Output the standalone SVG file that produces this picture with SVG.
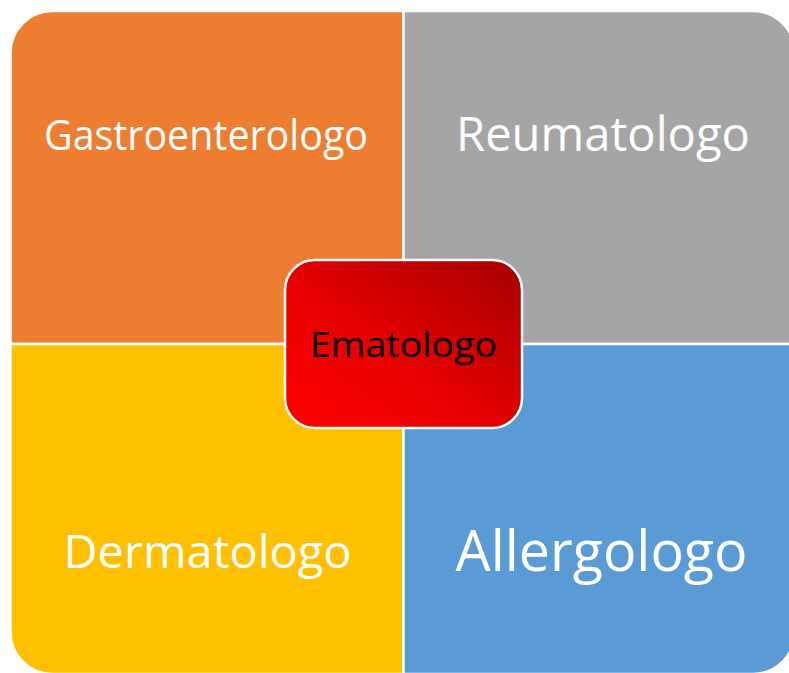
<svg xmlns="http://www.w3.org/2000/svg" width="789" height="673" viewBox="0 0 789 673">
  <style>
    .q { stroke: #FFFFFF; stroke-width: 2.5; }
    .lbl { font-family: "Open Sans", "Liberation Sans", sans-serif; fill: #FFFFFF; text-anchor: middle; }
    .center-lbl { font-family: "Open Sans", "Liberation Sans", sans-serif; fill: #000000; text-anchor: middle; }
  </style>
  <defs>
    <linearGradient id="redGrad" x1="0" y1="1" x2="1" y2="0">
      <stop offset="0" stop-color="#FF0000"/>
      <stop offset="0.45" stop-color="#E60000"/>
      <stop offset="1" stop-color="#A30000"/>
    </linearGradient>
  </defs>
  <rect x="0" y="0" width="789" height="673" fill="#FFFFFF"/>
  <g id="gastroenterologo">
    <path class="q" fill="#ED7D31" d="M10.5,53 A42,42 0 0 1 52.5,11 H403.5 V344 H10.5 Z"/>
    <text class="lbl" x="206" y="150" font-size="42" textLength="324" lengthAdjust="spacingAndGlyphs">Gastroenterologo</text>
  </g>
  <g id="reumatologo">
    <path class="q" fill="#A5A5A5" d="M403.5,11 H753 A42,42 0 0 1 795,53 V344 H403.5 Z"/>
    <text class="lbl" x="603" y="151" font-size="48" textLength="294" lengthAdjust="spacingAndGlyphs">Reumatologo</text>
  </g>
  <g id="dermatologo">
    <path class="q" fill="#FFC000" d="M10.5,344 H403.5 V674 H52.5 A42,42 0 0 1 10.5,632 Z"/>
    <text class="lbl" x="207.5" y="568" font-size="46" textLength="288" lengthAdjust="spacingAndGlyphs">Dermatologo</text>
  </g>
  <g id="allergologo">
    <path class="q" fill="#5B9BD5" d="M403.5,344 H795 V632 A42,42 0 0 1 753,674 H403.5 Z"/>
    <text class="lbl" x="601.5" y="571" font-size="56" textLength="292" lengthAdjust="spacingAndGlyphs">Allergologo</text>
  </g>
  <g id="ematologo">
    <rect x="285" y="260" width="237" height="168" rx="30" ry="30" fill="url(#redGrad)" stroke="#FFFFFF" stroke-width="2.5"/>
    <text class="center-lbl" x="403.5" y="357" font-size="34" textLength="187" lengthAdjust="spacingAndGlyphs">Ematologo</text>
  </g>
  <g id="connectors"></g>
</svg>
